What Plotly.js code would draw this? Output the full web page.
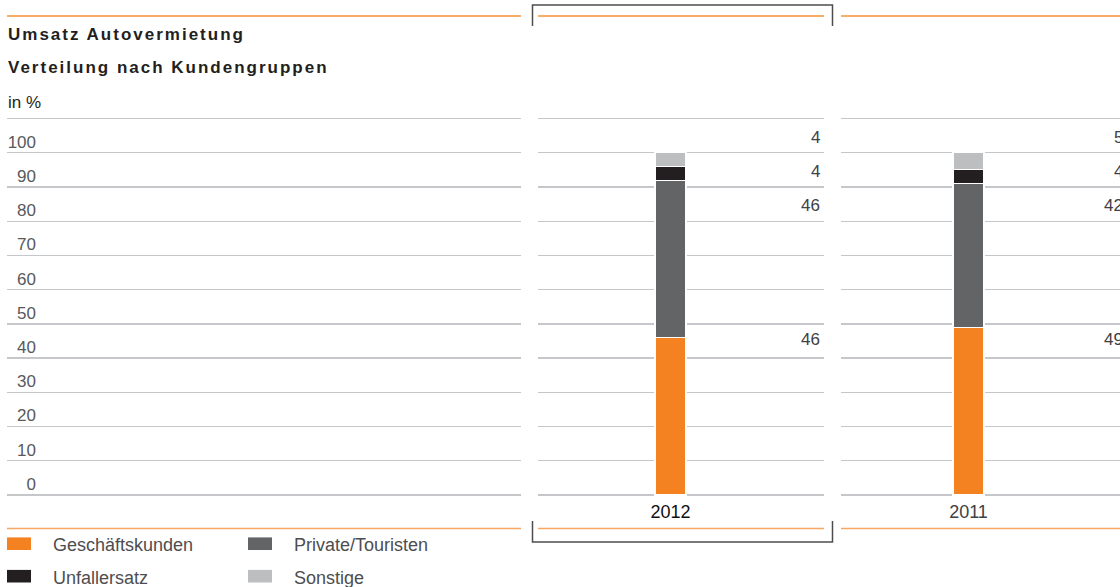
<!DOCTYPE html>
<html>
<head>
<meta charset="utf-8">
<script src="https://cdn.plot.ly/plotly-3.0.1.min.js"></script>
<style>
  html, body { margin: 0; padding: 0; background: #fff; }
  #chart { width: 1120px; height: 587px; }
</style>
</head>
<body>
<div id="chart"></div>
<script>
// Umsatz Autovermietung – Verteilung nach Kundengruppen (in %)

const years = ['2012', '2011'];
const groups = ['Geschäftskunden', 'Private/Touristen', 'Unfallersatz', 'Sonstige'];
const values2012 = [46, 46, 4, 4];
const values2011 = [49, 42, 4, 5];
const groupColors = ['#f58220', '#636466', '#231f20', '#bcbec0'];

const yTickVals = [0, 10, 20, 30, 40, 50, 60, 70, 80, 90, 100, 110];
const yTickText = ['0', '10', '20', '30', '40', '50', '60', '70', '80', '90', '100', ''];

const titleLines = ['Umsatz Autovermietung', 'Verteilung nach Kundengruppen'];
const unitLabel = 'in %';

// page geometry (pixels)
const W = 1120, H = 587;
const px = x => x / W;
const py = y => (H - y) / H;

const FONT = 'Liberation Sans, Arial, sans-serif';
const ORANGE = '#f7923a';
const ORANGE_LIGHT = '#f9a764';
const DARK = '#231f20';
const GRID = '#c6c7ca';

// label rows at the right of each panel (y values)
const labelRows = [45.3, 84.5, 94.5, 104.5];

const barWidth = 0.108;

function barTraces(values, year, axis) {
    return values.map((v, i) => ({
        type: 'bar',
        x: [year],
        y: [v],
        xaxis: axis,
        yaxis: 'y',
        width: barWidth,
        name: groups[i],
        marker: { color: groupColors[i], line: { color: '#ffffff', width: 1.2 } },
        hoverinfo: 'name+y',
        showlegend: false
    }));
}

// empty trace so the left (scale) panel gets its own grid
const scalePanel = { type: 'scatter', x: [], y: [], xaxis: 'x', yaxis: 'y', hoverinfo: 'skip', showlegend: false };

const traces = [
    scalePanel,
    ...barTraces(values2012, years[0], 'x2'),
    ...barTraces(values2011, years[1], 'x3')
];

// lines above / below each panel
const panels = [[7, 521], [538, 824], [841, 1120]];
const shapes = [];
panels.forEach(([a, b]) => {
    shapes.push({ type: 'line', xref: 'paper', yref: 'paper', x0: px(a), x1: px(b), y0: py(16), y1: py(16),
        line: { color: ORANGE, width: 1.5 } });
    shapes.push({ type: 'line', xref: 'paper', yref: 'paper', x0: px(a), x1: px(b), y0: py(528.5), y1: py(528.5),
        line: { color: ORANGE_LIGHT, width: 1.5 } });
});

// bracket around the current year
shapes.push({
    type: 'path', xref: 'paper', yref: 'paper',
    path: `M${px(532.5)},${py(26)} L${px(532.5)},${py(5)} L${px(832.5)},${py(5)} L${px(832.5)},${py(26)}`,
    line: { color: '#4d4d4f', width: 1.5 }
});
shapes.push({
    type: 'path', xref: 'paper', yref: 'paper',
    path: `M${px(532.5)},${py(521)} L${px(532.5)},${py(542)} L${px(832.5)},${py(542)} L${px(832.5)},${py(521)}`,
    line: { color: '#4d4d4f', width: 1.5 }
});

const annotations = [];

// titles
annotations.push({ xref: 'paper', yref: 'paper', x: px(7), y: py(34), xanchor: 'left', yanchor: 'middle',
    align: 'left', showarrow: false, borderpad: 0, text: titleLines[0],
    font: { family: FONT, size: 17, color: DARK, weight: 'bold' } });
annotations.push({ xref: 'paper', yref: 'paper', x: px(7), y: py(68), xanchor: 'left', yanchor: 'middle',
    align: 'left', showarrow: false, borderpad: 0, text: titleLines[1],
    font: { family: FONT, size: 17, color: DARK, weight: 'bold' } });
annotations.push({ xref: 'paper', yref: 'paper', x: px(7), y: py(102), xanchor: 'left', yanchor: 'middle',
    align: 'left', showarrow: false, borderpad: 0, text: unitLabel,
    font: { family: FONT, size: 17, color: DARK } });

// value labels at the right edge of each panel
function valueLabels(values, xref, shift) {
    values.forEach((v, i) => {
        annotations.push({ xref: xref, yref: 'y', x: 1, y: labelRows[i], xanchor: 'right', yanchor: 'middle',
            xshift: shift, showarrow: false, borderpad: 0, text: String(v),
            font: { family: FONT, size: 17, color: '#414042' } });
    });
}
valueLabels(values2012, 'x2 domain', -3);
valueLabels(values2011, 'x3 domain', 4);

// legend (two columns, two rows)
const legendCols = [[7, 51.5], [248, 293]];
const legendRows = [543.7, 576.2];
groups.forEach((g, i) => {
    const col = legendCols[i % 2];
    const row = legendRows[Math.floor(i / 2)];
    shapes.push({ type: 'rect', xref: 'paper', yref: 'paper',
        x0: px(col[0]), x1: px(col[0] + 24), y0: py(row - 6.3), y1: py(row + 6.3),
        fillcolor: groupColors[i], line: { width: 0 } });
    annotations.push({ xref: 'paper', yref: 'paper', x: px(col[1]), y: py(row + 1.5), xanchor: 'left', yanchor: 'middle',
        align: 'left', showarrow: false, borderpad: 0, text: g,
        font: { family: FONT, size: 18, color: '#4d4d4f' } });
});

// y scale: 0 -> 495px, 110 -> 118.5px
const yPerUnit = (495 - 118.5) / 110;
const yRange = [-0.3, 110.3];
const yDomain = [py(495 + 0.3 * yPerUnit), py(118.5 - 0.3 * yPerUnit)];

const pxPerCat = 286;

const layout = {
    width: W,
    height: H,
    margin: { l: 0, r: 0, t: 0, b: 0 },
    paper_bgcolor: '#ffffff',
    plot_bgcolor: 'rgba(0,0,0,0)',
    barmode: 'stack',
    showlegend: false,
    font: { family: FONT, color: DARK },
    xaxis: {
        domain: [px(7), px(521)],
        anchor: 'y',
        range: [0, 1],
        showgrid: false, zeroline: false, showticklabels: false, ticks: '', fixedrange: true
    },
    xaxis2: {
        type: 'category',
        domain: [px(538), px(824)],
        anchor: 'y',
        range: [-132.5 / pxPerCat, (286 - 132.5) / pxPerCat],
        showgrid: false, zeroline: false, ticks: '', showline: false, fixedrange: true,
        ticklabelstandoff: 3,
        tickfont: { family: FONT, size: 18, color: '#111111' }
    },
    xaxis3: {
        type: 'category',
        domain: [px(841), 1],
        anchor: 'y',
        range: [-127.5 / pxPerCat, (279 - 127.5) / pxPerCat],
        showgrid: false, zeroline: false, ticks: '', showline: false, fixedrange: true,
        ticklabelstandoff: 3,
        tickfont: { family: FONT, size: 18, color: '#414042' }
    },
    yaxis: {
        domain: yDomain,
        range: yRange,
        anchor: 'free',
        position: px(36),
        side: 'left',
        tickmode: 'array',
        tickvals: yTickVals,
        ticktext: yTickText,
        ticks: '',
        ticklabelshift: -11,
        showgrid: true,
        gridcolor: GRID,
        gridwidth: 1.3,
        zeroline: false,
        showline: false,
        fixedrange: true,
        tickfont: { family: FONT, size: 17, color: '#58595b' }
    },
    shapes: shapes,
    annotations: annotations
};

Plotly.newPlot('chart', traces, layout, { displayModeBar: false, staticPlot: true }).then(() => {
    // spaced lettering of the headline
    document.querySelectorAll('.annotation-text').forEach(t => {
        if (titleLines.includes(t.textContent)) t.style.letterSpacing = '2px';
    });
});
</script>
</body>
</html>
